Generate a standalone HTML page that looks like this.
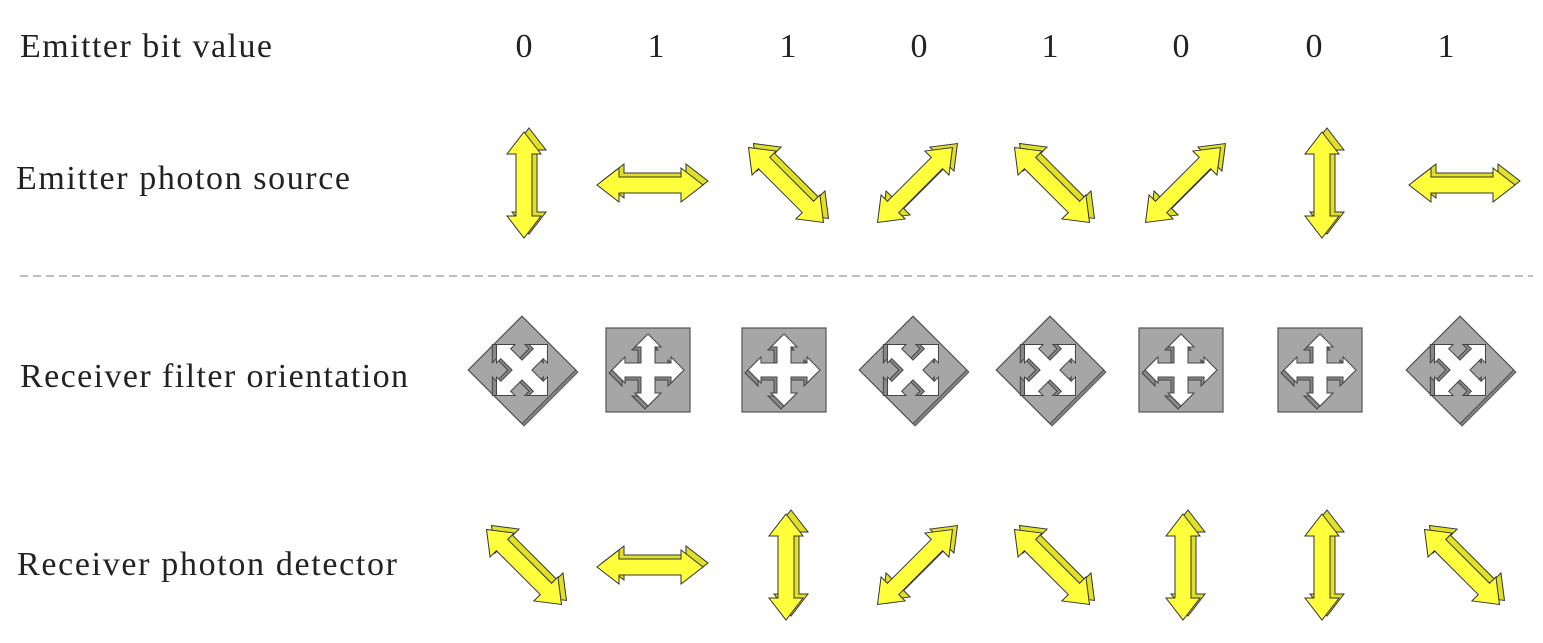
<!DOCTYPE html>
<html><head><meta charset="utf-8"><style>
html,body{margin:0;padding:0;background:#fff;width:1543px;height:643px;overflow:hidden}
svg text{font-family:"Liberation Serif",serif;fill:#222}
</style></head><body>
<svg id="chart" width="1543" height="643" viewBox="0 0 1543 643" xmlns="http://www.w3.org/2000/svg">
<text x="20" y="57" font-size="34" textLength="252">Emitter bit value</text>
<text x="16" y="189" font-size="34" textLength="334">Emitter photon source</text>
<text x="20" y="387" font-size="34" textLength="388">Receiver filter orientation</text>
<text x="17" y="575" font-size="34" textLength="380">Receiver photon detector</text>
<line x1="20" y1="276" x2="1533" y2="276" stroke="#aaa" stroke-width="1.5" stroke-dasharray="8,5"/>
<g id="marks"></g>
</svg>
<script>
const bits = [0,1,1,0,1,0,0,1];
const sourceAngles = [90,0,45,-45,45,-45,90,0];
const filterTypes = ['diag','rect','rect','diag','diag','rect','rect','diag'];
const detectorAngles = [45,0,90,-45,45,90,90,45];

const colX = [524,650,786,915,1052,1183,1322,1462];
const bitX = [524,656,788,919,1050,1181,1314,1446];
const NS='http://www.w3.org/2000/svg';
const g=document.getElementById('marks');
function mk(tag,attrs,parent){const e=document.createElementNS(NS,tag);for(const k in attrs)e.setAttribute(k,attrs[k]);(parent||g).appendChild(e);return e;}

bits.forEach((b,i)=>{
  const t=mk('text',{x:bitX[i],y:57,'font-size':34,'text-anchor':'middle'});
  
  
  t.textContent=b;
});

const L=53,hl=22,hw=17,sw=8;
const arrowPts=`${-L},0 ${-L+hl},${-hw} ${-L+hl},${-sw} ${L-hl},${-sw} ${L-hl},${-hw} ${L},0 ${L-hl},${hw} ${L-hl},${sw} ${-L+hl},${sw} ${-L+hl},${hw}`;
function arrow(cx,cy,ang,name){
  const grp=mk('g',{});
  
  
  mk('polygon',{points:arrowPts,fill:'#e0e028',stroke:'#333','stroke-width':1,transform:`translate(${cx+5},${cy-4}) rotate(${ang})`},grp);
  mk('polygon',{points:arrowPts,fill:'#ffff3c',stroke:'#333','stroke-width':1,transform:`translate(${cx},${cy}) rotate(${ang})`},grp);
}
sourceAngles.forEach((a,i)=>arrow(colX[i],185,a,'source-arrow-'+i));
detectorAngles.forEach((a,i)=>arrow(colX[i],567,a,'detector-arrow-'+i));

const A=36,ch=13,cw=13,cs=7;
function crossPts(){
  const p=[];
  for(let k=0;k<4;k++){
    const r=k*Math.PI/2, c=Math.cos(r), s=Math.sin(r);
    const loc=[[cs,-cs],[A-ch,-cs],[A-ch,-cw],[A,0],[A-ch,cw],[A-ch,cs]];
    loc.forEach(([x,y])=>p.push(`${(x*c-y*s).toFixed(1)},${(x*s+y*c).toFixed(1)}`));
  }
  return p.join(' ');
}
const cp=crossPts();
filterTypes.forEach((t,i)=>{
  const cx=colX[i]-2, cy=370;
  const grp=mk('g',{transform:`translate(${cx},${cy}) rotate(${t==='diag'?45:0})`});
  
  
  const h=t==='diag'?38:42;
  if(t==='diag') mk('rect',{x:-h,y:-h,width:2*h+3,height:2*h,fill:'#888',stroke:'#555'},grp);
  mk('rect',{x:-h,y:-h,width:2*h,height:2*h,fill:'#a6a6a6',stroke:'#555','stroke-width':1.2},grp);
  mk('polygon',{points:cp,fill:'#888',stroke:'#444','stroke-width':1,transform:'translate(-3,3)'},grp);
  mk('polygon',{points:cp,fill:'#fff',stroke:'#444','stroke-width':1},grp);
});
</script>
</body></html>
